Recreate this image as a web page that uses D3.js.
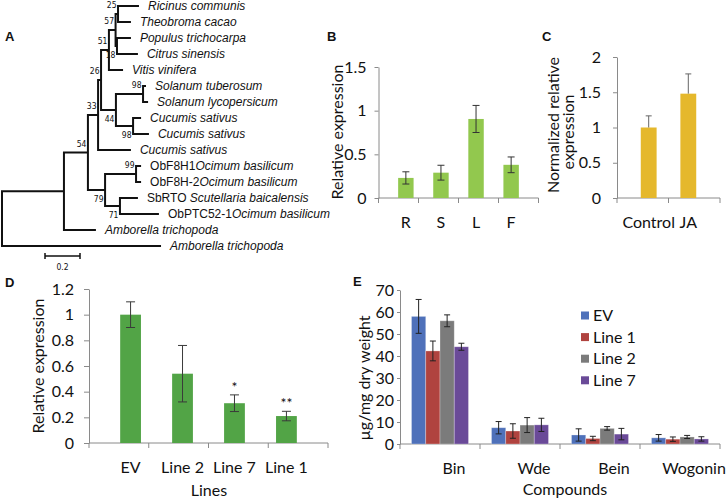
<!DOCTYPE html>
<html><head><meta charset="utf-8">
<script src="https://cdn.jsdelivr.net/npm/d3@7"></script>
<style>
body{margin:0;background:#fff;}
svg{display:block;}
text{font-family:Lato,"Open Sans",sans-serif;fill:#111;}
.tree text{font-family:"Liberation Sans",Arial,sans-serif;}
.boot{font-family:"Liberation Sans Narrow","DejaVu Sans Condensed",sans-serif !important;font-size:8.5px;}
.plab{font-family:"Liberation Sans",Arial,sans-serif;font-weight:bold;font-size:13px;}
</style></head><body>
<svg id="fig" width="726" height="499"></svg>
<script>
// ---------- Panel B data ----------
const tissueCats = ["R","S","L","F"];
const tissueVals = [0.23,0.29,0.905,0.38];
const tissueErr  = [0.07,0.085,0.155,0.09];
const tissueTicks = [0,0.5,1,1.5];
// ---------- Panel C data ----------
const treatCats = ["Control","JA"];
const treatVals = [1.0,1.48];
const treatErr  = [0.165,0.28];
const treatTicks = [0,0.5,1,1.5,2];
// ---------- Panel D data ----------
const lineCats = ["EV","Line 2","Line 7","Line 1"];
const lineVals = [1.0,0.54,0.31,0.21];
const lineErr  = [0.1,0.22,0.065,0.037];
const lineSig  = ["","","*","**"];
const lineTicks = [0,0.2,0.4,0.6,0.8,1,1.2];
// ---------- Panel E data ----------
const compounds = ["Bin","Wde","Bein","Wogonin"];
const seriesNames = ["EV","Line 1","Line 2","Line 7"];
const seriesVals = [[58,7.4,4.1,2.8],[42.3,5.9,2.5,2.2],[56,8.6,7.1,3.2],[44.2,8.7,4.5,2.3]];
const seriesErr  = [[7.7,2.8,2.8,1.5],[4.5,3.3,1.0,1.0],[2.7,3.4,0.8,0.7],[1.6,3.0,2.6,1.0]];
const compTicks = [0,10,20,30,40,50,60,70];
// ---------- Panel A tree (branch lengths, bootstrap) ----------
const treeData = {len:0, children:[
  {len:0.354, children:[
    {len:0.137, boot:54, children:[
      {len:0.058, boot:33, children:[
        {len:0.017, boot:26, children:[
          {len:0.045, boot:51, children:[
            {len:0.038, boot:57, children:[
              {len:0.014, boot:25, children:[
                {len:0.114, name:[["Ricinus communis",1]]},
                {len:0.068, name:[["Theobroma cacao",1]]}]},
              {len:0.008, boot:18, children:[
                {len:0.074, name:[["Populus trichocarpa",1]]},
                {len:0.114, name:[["Citrus sinensis",1]]}]}]},
            {len:0.075, name:[["Vitis vinifera",1]]}]},
          {len:0.085, boot:44, children:[
            {len:0.155, boot:98, children:[
              {len:0.011, name:[["Solanum tuberosum",1]]},
              {len:0.023, name:[["Solanum lycopersicum",1]]}]},
            {len:0.098, boot:98, children:[
              {len:0.040, name:[["Cucumis sativus",1]]},
              {len:0.085, name:[["Cucumis sativus",1]]}]}]}]},
        {len:0.182, name:[["Cucumis sativus",1]]}]},
      {len:0.098, boot:79, children:[
        {len:0.177, boot:99, children:[
          {len:0.023, name:[["ObF8H1",0],["Ocimum basilicum",1]]},
          {len:0.023, name:[["ObF8H-2",0],["Ocimum basilicum",1]]}]},
        {len:0.085, boot:71, children:[
          {len:0.097, name:[["SbRTO\u00a0",0],["Scutellaria baicalensis",1]]},
          {len:0.217, name:[["ObPTC52-1",0],["Ocimum basilicum",1]]}]}]}]},
    {len:0.177, name:[["Amborella trichopoda",1]]}]},
  {len:0.903, name:[["Amborella trichopoda",1]]}]};
const scaleBarLen = 0.2;

const svg = d3.select("#fig");
const AXC = "#8a8a8a";

// ---------------- Panel A ----------------
(function(){
  const g = svg.append("g").attr("class","tree");
  const tx = d3.scaleLinear().domain([0,1]).range([2,177]);
  const root = d3.hierarchy(treeData);
  root.eachBefore(n => n.dist = (n.parent ? n.parent.dist : 0) + (n.data.len||0));
  const leaves = root.leaves();
  const ty = d3.scalePoint().domain(d3.range(leaves.length)).range([6,246]);
  leaves.forEach((l,i)=> l.py = ty(i));
  root.eachAfter(n => {
    if (n.children) n.py = (n.children[0].py + n.children[n.children.length-1].py)/2;
    n.px = tx(n.dist);
  });
  let p = "";
  root.each(n => {
    if (n.parent) p += `M${n.parent.px},${n.py}H${n.px}`;
    if (n.children) p += `M${n.px},${n.children[0].py}V${n.children[n.children.length-1].py}`;
  });
  g.append("path").attr("d",p).attr("fill","none").attr("stroke","#111")
    .attr("stroke-width",2).attr("stroke-linecap","square");
  // leaf labels
  leaves.forEach(l => {
    const t = g.append("text").attr("x", l.px + 10).attr("y", l.py).attr("dy","0.36em")
      .attr("font-size",12);
    l.data.name.forEach(([s,it]) => t.append("tspan").text(s).attr("font-style", it ? "italic" : "normal"));
  });
  // bootstrap values: left of node, above the branch for upper child, below for lower child
  root.each(n => {
    if (n.data.boot == null) return;
    const first = n.parent.children[0] === n;
    g.append("text").attr("class","boot").attr("text-anchor","end")
      .attr("x", n.px - 1.5).attr("y", first ? n.py - 6 : n.py + 12).text(n.data.boot);
  });
  // scale bar
  const sb0 = 45, sb1 = sb0 + (tx(scaleBarLen) - tx(0));
  g.append("path").attr("d",`M${sb0},253V259M${sb0},256H${sb1}M${sb1},253V259`)
    .attr("stroke","#111").attr("stroke-width",1.5).attr("fill","none");
  g.append("text").attr("class","boot").attr("text-anchor","middle")
    .attr("x",(sb0+sb1)/2).attr("y",270).text(scaleBarLen);
})();

// ------------- generic bar panel -------------
function barPanel(o){
  const g = svg.append("g");
  const x = d3.scaleBand().domain(o.cats).range([o.x0,o.x1]).padding(o.pad);
  const y = d3.scaleLinear().domain([0, d3.max(o.ticks)]).range([o.yb, o.yt]);
  const ya = g.append("g").attr("transform",`translate(${o.x0},0)`)
    .call(d3.axisLeft(y).tickValues(o.ticks).tickFormat(d3.format("~g"))
      .tickSize(o.tick).tickSizeOuter(0).tickPadding(o.tpad));
  ya.select(".domain").attr("stroke",AXC);
  ya.selectAll(".tick line").attr("stroke",AXC);
  ya.selectAll("text").attr("font-size",16).attr("font-family","Lato").attr("fill","#111");
  const step = (o.x1 - o.x0)/o.cats.length;
  g.append("line").attr("x1",o.x0).attr("x2",o.x1).attr("y1",o.yb).attr("y2",o.yb).attr("stroke",AXC);
  g.selectAll(".bt").data(d3.range(o.cats.length+1)).join("line")
    .attr("x1",i=>o.x0+i*step).attr("x2",i=>o.x0+i*step).attr("y1",o.yb).attr("y2",o.yb+5).attr("stroke",AXC);
  g.selectAll(".xl").data(o.cats).join("text").attr("text-anchor","middle")
    .attr("x",d=>x(d)+x.bandwidth()/2 + (o.lxoff||0)).attr("y",o.yb+24).attr("dy","0.35em")
    .attr("font-size",16).text(d=>d);
  return {g,x,y};
}
function errBars(g, cx, yv, ye, y, cap, both, color){
  const top = y(yv+ye), bot = both ? y(yv-ye) : y(yv);
  g.append("path").attr("d",`M${cx},${top}V${bot}M${cx-cap/2},${top}H${cx+cap/2}` + (both?`M${cx-cap/2},${bot}H${cx+cap/2}`:""))
    .attr("stroke",color).attr("stroke-width",1).attr("fill","none");
}

// ---------------- Panel B ----------------
(function(){
  const {g,x,y} = barPanel({cats:tissueCats,ticks:tissueTicks,x0:378.5,x1:538.5,yb:198,yt:67,pad:0.56,tick:4,tpad:8});
  tissueCats.forEach((c,i)=>{
    g.append("rect").attr("x",x(c)).attr("width",x.bandwidth()).attr("y",y(tissueVals[i]))
      .attr("height",y(0)-y(tissueVals[i])).attr("fill","#92c84e");
    errBars(g, x(c)+x.bandwidth()/2, tissueVals[i], tissueErr[i], y, 7, true, "#333");
  });
  g.append("text").attr("transform","translate(337,132) rotate(-90)").attr("text-anchor","middle")
    .attr("dy","0.35em").attr("font-size",16).text("Relative expression");
})();

// ---------------- Panel C ----------------
(function(){
  const {g,x,y} = barPanel({cats:treatCats,ticks:treatTicks,x0:617,x1:720,yb:198,yt:57,pad:0.6,tick:4,tpad:12});
  treatCats.forEach((c,i)=>{
    g.append("rect").attr("x",x(c)).attr("width",x.bandwidth()).attr("y",y(treatVals[i]))
      .attr("height",y(0)-y(treatVals[i])).attr("fill","#e5b82c");
    errBars(g, x(c)+x.bandwidth()/2, treatVals[i], treatErr[i], y, 6, false, "#666");
  });
  g.append("text").attr("transform","translate(553,125) rotate(-90)").attr("text-anchor","middle")
    .attr("dy","0.35em").attr("font-size",16).text("Normalized relative");
  g.append("text").attr("transform","translate(568,132) rotate(-90)").attr("text-anchor","middle")
    .attr("dy","0.35em").attr("font-size",16).text("expression");
})();

// ---------------- Panel D ----------------
(function(){
  const {g,x,y} = barPanel({cats:lineCats,ticks:lineTicks,x0:89,x1:328,yb:443,yt:289,pad:0.6,tick:5,tpad:10});
  lineCats.forEach((c,i)=>{
    const cx = x(c)+x.bandwidth()/2;
    g.append("rect").attr("x",x(c)).attr("width",x.bandwidth()).attr("y",y(lineVals[i]))
      .attr("height",y(0)-y(lineVals[i])).attr("fill","#52a446");
    errBars(g, cx, lineVals[i], lineErr[i], y, 9, true, "#3a3a3a");
    if (lineSig[i]) g.append("text").attr("x",cx).attr("y",y(lineVals[i]+lineErr[i])-3)
      .attr("text-anchor","middle").attr("font-size",14).text(lineSig[i]);
  });
  g.append("text").attr("transform","translate(38,366) rotate(-90)").attr("text-anchor","middle")
    .attr("dy","0.35em").attr("font-size",16).text("Relative expression");
  g.append("text").attr("x",209).attr("y",490).attr("text-anchor","middle").attr("dy","0.35em")
    .attr("font-size",16).text("Lines");
})();

// ---------------- Panel E ----------------
(function(){
  const colors = ["#4f71ba","#b0433f","#7b7b7b","#6a4a98"];
  const {g,y} = barPanel({cats:compounds,ticks:compTicks,x0:400,x1:720,yb:444,yt:290,pad:0,tick:3,tpad:3,lxoff:14});
  const x0 = d3.scaleBand().domain(compounds).range([400,720]).paddingInner(0.2875).paddingOuter(0.14375);
  const x1 = d3.scaleBand().domain(seriesNames).range([0,x0.bandwidth()]);
  seriesNames.forEach((s,si)=>{
    compounds.forEach((c,ci)=>{
      const v = seriesVals[si][ci], e = seriesErr[si][ci];
      const bx = x0(c)+x1(s);
      g.append("rect").attr("x",bx).attr("width",x1.bandwidth()).attr("y",y(v))
        .attr("height",y(0)-y(v)).attr("fill",colors[si]).attr("stroke","rgba(255,255,255,0.35)").attr("stroke-width",0.8);
      errBars(g, bx+x1.bandwidth()/2, v, e, y, 6, true, "#222");
    });
  });
  const lg = g.append("g");
  seriesNames.forEach((s,si)=>{
    const cy = 315.5 + si*21.6;
    lg.append("rect").attr("x",581).attr("y",cy-4).attr("width",8).attr("height",8).attr("fill",colors[si]);
    lg.append("text").attr("x",593).attr("y",cy).attr("dy","0.35em").attr("font-size",16).text(s);
  });
  g.append("text").attr("transform","translate(364,378) rotate(-90)").attr("text-anchor","middle")
    .attr("dy","0.35em").attr("font-size",16).text("µg/mg dry weight");
  g.append("text").attr("x",565).attr("y",489).attr("text-anchor","middle").attr("dy","0.35em")
    .attr("font-size",16).text("Compounds");
})();

// panel letters
[["A",5,41],["B",327,41],["C",542,41],["D",5,287],["E",353,286]].forEach(([t,x,y])=>
  svg.append("text").attr("class","plab").attr("x",x).attr("y",y).text(t));
</script>
</body></html>
